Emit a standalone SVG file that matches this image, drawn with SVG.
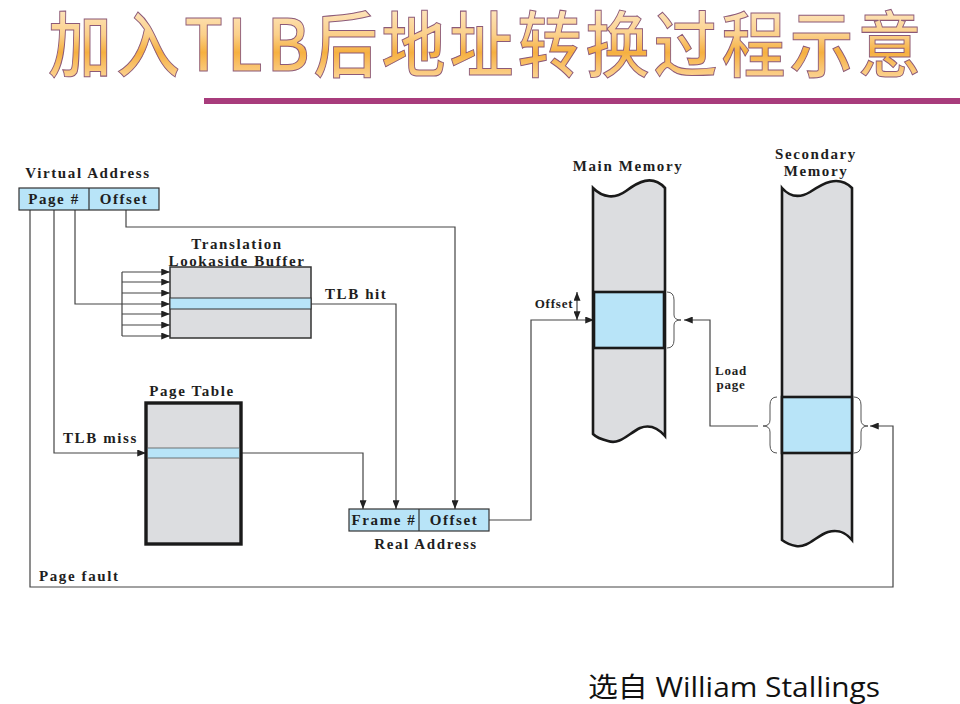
<svg xmlns="http://www.w3.org/2000/svg" width="960" height="704" viewBox="0 0 960 704">
  <defs>
    <linearGradient id="titleFill" x1="0" y1="0" x2="0" y2="1">
      <stop offset="0" stop-color="#fff6e6"/>
      <stop offset="0.45" stop-color="#fbd08a"/>
      <stop offset="0.62" stop-color="#f6b040"/>
      <stop offset="1" stop-color="#ffe6c0"/>
    </linearGradient>
    <marker id="arr" viewBox="0 0 10 8" refX="10" refY="4" markerWidth="9" markerHeight="7" markerUnits="userSpaceOnUse" orient="auto-start-reverse">
      <path d="M0,0 L10,4 L0,8 Z" fill="#222"/>
    </marker>
    <style>
      .t { font-family: "Liberation Serif", "Times New Roman", serif; font-weight: bold; font-size: 15px; fill: #1e1e1e; letter-spacing: 1.6px; }
      .ts { font-size: 13px; letter-spacing: 0.8px; }
      .mid { text-anchor: middle; }
      .field { fill: #b8e4f8; stroke: #333; stroke-width: 1.2; }
      .store { fill: #dcdde0; }
      .blue { fill: #b8e4f8; }
      .col { fill: #dcdde0; stroke: #1a1a1a; stroke-width: 2.6; }
      .conn { fill: none; stroke: #444; stroke-width: 1.2; }
      .brace { fill: none; stroke: #555; stroke-width: 1; }
    </style>
  </defs>

  <rect width="960" height="704" fill="#ffffff"/>

  <!-- heading -->
  <g id="title">
    <text transform="translate(48,71) scale(1,1.12)" x="0" y="0" font-family="'Noto Sans CJK SC', sans-serif" font-weight="500" font-size="64" letter-spacing="4" fill="url(#titleFill)" stroke="#8c5a78" stroke-width="0.9">加入TLB后地址转换过程示意</text>
    <rect x="204" y="98" width="756" height="6" fill="#a83c7c"/>
  </g>

  <!-- connectors -->
  <g id="connectors">
    <path class="conn" d="M30,210 V587 H893 V426 H870" marker-end="url(#arr)"/>
    <path class="conn" d="M54,210 V453 H146" marker-end="url(#arr)"/>
    <path class="conn" d="M75,210 V304 H170" marker-end="url(#arr)"/>
    <path class="conn" d="M122,272 V336"/>
    <path class="conn" d="M122,272 H170" marker-end="url(#arr)"/>
    <path class="conn" d="M122,282 H170" marker-end="url(#arr)"/>
    <path class="conn" d="M122,293 H170" marker-end="url(#arr)"/>
    <path class="conn" d="M122,314 H170" marker-end="url(#arr)"/>
    <path class="conn" d="M122,325 H170" marker-end="url(#arr)"/>
    <path class="conn" d="M122,336 H170" marker-end="url(#arr)"/>
    <path class="conn" d="M126,210 V227 H455 V509" marker-end="url(#arr)"/>
    <path class="conn" d="M311,304 H396 V509" marker-end="url(#arr)"/>
    <path class="conn" d="M241,453 H363 V509" marker-end="url(#arr)"/>
    <path class="conn" d="M489,520 H531 V320 H594" marker-end="url(#arr)"/>
    <path class="conn" d="M758,426 H710 V320 H684" marker-end="url(#arr)"/>
    <path class="conn" d="M577,292 V320" marker-start="url(#arr)" marker-end="url(#arr)"/>
  </g>

  <!-- virtual address register -->
  <g id="virtual-address">
    <text class="t mid" x="88" y="178">Virtual Address</text>
    <rect class="field" x="19" y="188" width="140" height="22"/>
    <line x1="89" y1="188" x2="89" y2="210" stroke="#333" stroke-width="1.2"/>
    <text class="t mid" x="54" y="204">Page #</text>
    <text class="t mid" x="124" y="204">Offset</text>
  </g>

  <!-- translation lookaside buffer -->
  <g id="tlb">
    <text class="t mid" x="237" y="249">Translation</text>
    <text class="t mid" x="237" y="266">Lookaside Buffer</text>
    <rect class="store" x="170" y="267" width="141" height="71" stroke="#333" stroke-width="1.5"/>
    <rect class="blue" x="170" y="298" width="141" height="11" stroke="#333" stroke-width="1"/>
    <text class="t" x="325" y="299">TLB hit</text>
  </g>

  <!-- page table -->
  <g id="page-table">
    <text class="t mid" x="192" y="396">Page Table</text>
    <rect class="store" x="146" y="403" width="95" height="141" stroke="#1a1a1a" stroke-width="3.4"/>
    <rect class="blue" x="147.5" y="448" width="92" height="10" stroke="#555" stroke-width="0.8"/>
    <text class="t" x="63" y="443">TLB miss</text>
    <text class="t" x="39" y="581">Page fault</text>
  </g>

  <!-- real address register -->
  <g id="real-address">
    <rect class="field" x="349" y="509" width="140" height="22"/>
    <line x1="419" y1="509" x2="419" y2="531" stroke="#333" stroke-width="1.2"/>
    <text class="t mid" x="384" y="525">Frame #</text>
    <text class="t mid" x="454" y="525">Offset</text>
    <text class="t mid" x="426" y="549">Real Address</text>
  </g>

  <!-- main memory -->
  <g id="main-memory">
    <text class="t mid" x="628" y="171">Main Memory</text>
    <path class="col" d="M593,188 C603,198 615,199 626,191 C638,182 652,174 665,188 V436 C658,428 650,424 640,428 C628,434 620,445 608,441 C600,439 596,437 593,434 Z"/>
    <rect class="blue" x="594" y="292" width="70" height="56" stroke="#1a1a1a" stroke-width="2.6"/>
    <path class="brace" d="M667,292 Q674,292 674,300 V315 Q674,320 681,320 Q674,320 674,325 V340 Q674,348 667,348"/>
    <text class="t ts mid" x="554" y="308">Offset</text>
    <text class="t ts mid" x="731" y="375">Load</text>
    <text class="t ts mid" x="731" y="389">page</text>
  </g>

  <!-- secondary memory -->
  <g id="secondary-memory">
    <text class="t mid" x="816" y="159">Secondary</text>
    <text class="t mid" x="816" y="176">Memory</text>
    <path class="col" d="M782,188 C790,197 800,198 810,192 C822,184 838,174 852,188 V540 C845,532 838,529 828,532 C816,536 808,548 796,546 C790,545 786,543 782,540 Z"/>
    <rect class="blue" x="782" y="397" width="70" height="56" stroke="#1a1a1a" stroke-width="2.6"/>
    <path class="brace" d="M777,397 Q770,397 770,405 V420 Q770,426 763,426 Q770,426 770,432 V445 Q770,453 777,453"/>
    <path class="brace" d="M854,397 Q861,397 861,405 V420 Q861,426 868,426 Q861,426 861,432 V445 Q861,453 854,453"/>
  </g>

  <!-- source credit -->
  <g id="credit">
    <text x="588" y="697" font-family="'Open Sans', 'Noto Sans CJK SC', sans-serif" font-size="27" textLength="292" lengthAdjust="spacingAndGlyphs" fill="#111">选自 William Stallings</text>
  </g>
</svg>
